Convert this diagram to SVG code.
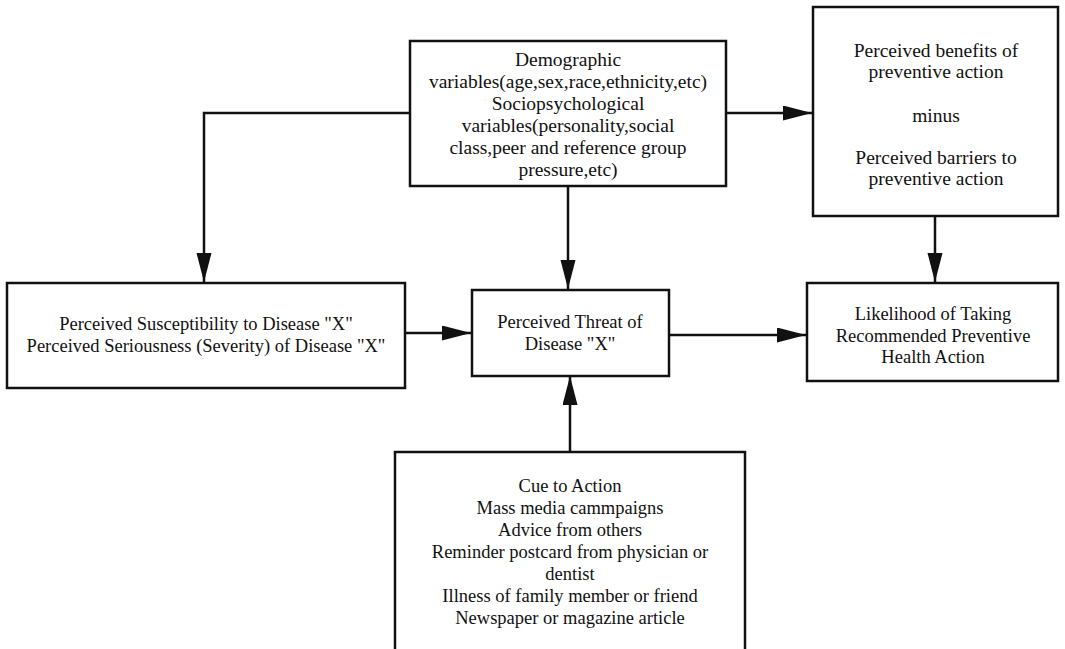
<svg xmlns="http://www.w3.org/2000/svg" width="1065" height="649" viewBox="0 0 1065 649">
<style>
.box{fill:#fff;stroke:#111;stroke-width:2.5}
.t{font-family:"Liberation Serif","Times New Roman",serif;font-size:18.5px;fill:#111;text-anchor:middle}
.w{font-size:19.5px}
.c{fill:none;stroke:#111;stroke-width:2.5}
</style>
<defs>
<marker id="ah" markerUnits="userSpaceOnUse" markerWidth="31" markerHeight="16" refX="29" refY="7.5" orient="auto">
<path d="M0,0 L29,7.5 L0,15 Z" fill="#111"/>
</marker>
</defs>
<rect width="1065" height="649" fill="#fff"/>
<g id="connectors">
<polyline class="c" points="410,113 204,113 204,282" marker-end="url(#ah)"/>
<line class="c" x1="726" y1="113" x2="812" y2="113" marker-end="url(#ah)"/>
<line class="c" x1="568" y1="186" x2="568" y2="289" marker-end="url(#ah)"/>
<line class="c" x1="935" y1="216" x2="935" y2="282" marker-end="url(#ah)"/>
<line class="c" x1="405" y1="333" x2="471" y2="333" marker-end="url(#ah)"/>
<line class="c" x1="669" y1="335" x2="806" y2="335" marker-end="url(#ah)"/>
<line class="c" x1="570" y1="452" x2="570" y2="376" marker-end="url(#ah)"/>
</g>
<g id="demographic">
<rect class="box" x="410" y="41" width="316" height="145"/>
<text class="t w" x="568" y="66">Demographic</text>
<text class="t w" x="568" y="88">variables(age,sex,race,ethnicity,etc)</text>
<text class="t w" x="568" y="110">Sociopsychological</text>
<text class="t w" x="568" y="132">variables(personality,social</text>
<text class="t w" x="568" y="154">class,peer and reference group</text>
<text class="t w" x="568" y="176">pressure,etc)</text>
</g>
<g id="benefits">
<rect class="box" x="813" y="7" width="245" height="209"/>
<text class="t w" x="936" y="57">Perceived benefits of</text>
<text class="t w" x="936" y="78">preventive action</text>
<text class="t w" x="936" y="122">minus</text>
<text class="t w" x="936" y="164">Perceived barriers to</text>
<text class="t w" x="936" y="185">preventive action</text>
</g>
<g id="susceptibility">
<rect class="box" x="7" y="283" width="398" height="105"/>
<text class="t" x="206" y="330">Perceived Susceptibility to Disease "X"</text>
<text class="t" x="206" y="352">Perceived Seriousness (Severity) of Disease "X"</text>
</g>
<g id="threat">
<rect class="box" x="472" y="290" width="197" height="86"/>
<text class="t" x="570" y="328">Perceived Threat of</text>
<text class="t" x="570" y="350">Disease "X"</text>
</g>
<g id="likelihood">
<rect class="box" x="807" y="283" width="251" height="98"/>
<text class="t" x="933" y="320">Likelihood of Taking</text>
<text class="t" x="933" y="342">Recommended Preventive</text>
<text class="t" x="933" y="363">Health Action</text>
</g>
<g id="cue">
<rect class="box" x="395" y="452" width="350" height="210"/>
<text class="t" x="570" y="492">Cue to Action</text>
<text class="t" x="570" y="514">Mass media cammpaigns</text>
<text class="t" x="570" y="536">Advice from others</text>
<text class="t" x="570" y="558">Reminder postcard from physician or</text>
<text class="t" x="570" y="580">dentist</text>
<text class="t" x="570" y="602">Illness of family member or friend</text>
<text class="t" x="570" y="624">Newspaper or magazine article</text>
</g>
</svg>
